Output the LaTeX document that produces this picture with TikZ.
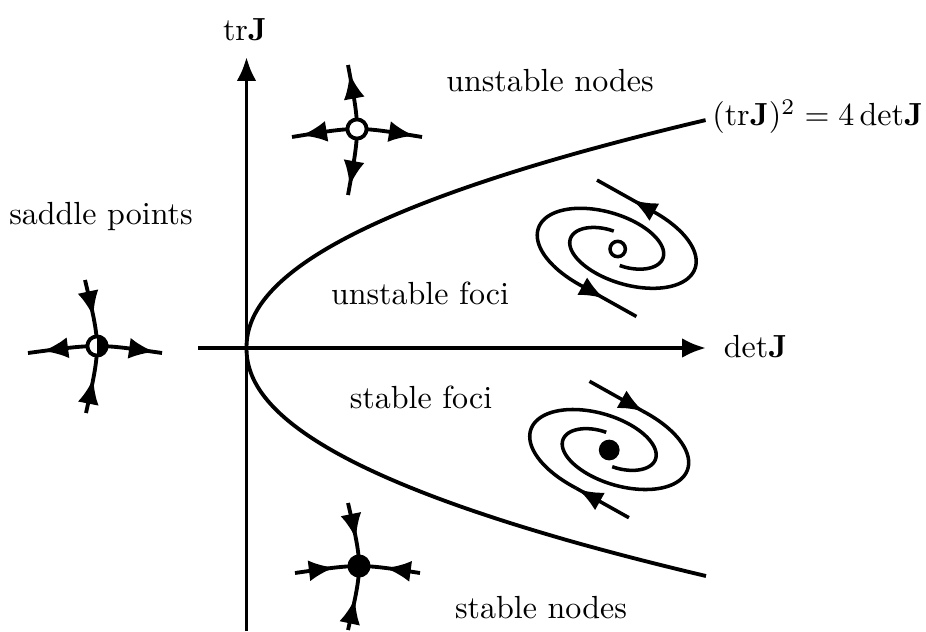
\documentclass[tikz,border=0pt]{standalone}
\usetikzlibrary{arrows.meta,calc}
\begin{document}
\begin{tikzpicture}[x=0.3125pt,y=-0.3125pt,line width=1.2pt,
  lbl/.style={inner sep=0pt,font=\normalsize},
  axisline/.style={-{Latex[length=7.5pt,width=6.2pt]}},
  dot/.style={circle,draw,line width=1.2pt,minimum size=6pt,inner sep=0pt},
  opendot/.style={dot,fill=white},
  fulldot/.style={dot,fill=black},
  halfdot/.style={dot,fill=white,path picture={\fill[black] (path picture bounding box.north) rectangle (path picture bounding box.south east);}},
  gtip/.style={-{Latex[length=8pt,width=6.6pt]},line width=1.2pt},
  stip/.style={-{Latex[length=7.8pt,width=6.3pt]},line width=1.1pt},
  arm/.style={line width=1.1pt}
]
\useasboundingbox (0,0) rectangle (926,631);

% axes
\coordinate (O) at (246.5,348);
\coordinate (ybot) at (246.5,631);
\coordinate (ytop) at (246.5,57);
\coordinate (xleft) at (198,348);
\coordinate (xright) at (706,348);
\draw[axisline] (ybot) -- (ytop);
\draw[axisline] (xleft) -- (xright);

% parabola (trJ)^2 = 4 detJ
\draw[line width=1.2pt] plot[domain=-2.28:2.28,samples=100,smooth]
  ({246.5+81.4*pow(abs(\x),2.1)},{348-100*\x});

% labels
\node[lbl] (ltr) at (245,30) {$\mathrm{tr}\mathbf{J}$};
\node[lbl,anchor=west] (ldet) at (722,346) {$\mathrm{det}\mathbf{J}$};
\node[lbl,anchor=base east] (lpar) at (925,126) {$(\mathrm{tr}\mathbf{J})^2 = 4\,\mathrm{det}\mathbf{J}$};
\node[lbl] (lun) at (550,81) {unstable nodes};
\node[lbl] (lsad) at (101,216) {saddle points};
\node[lbl] (luf) at (420,293) {unstable foci};
\node[lbl] (lsf) at (421,397) {stable foci};
\node[lbl] (lsn) at (541,608) {stable nodes};

% ---------- unstable node ----------
\coordinate (unt) at (348,65);  \coordinate (unb) at (348,195);
\coordinate (unl) at (292,137); \coordinate (unr) at (422,137);
\draw (unt) .. controls (360,128.7) .. (unb)
  coordinate[pos=0.045] (unA) coordinate[pos=0.12] (unAb)
  coordinate[pos=0.955] (unB) coordinate[pos=0.88] (unBb);
\draw (unl) .. controls (357,126.3) .. (unr)
  coordinate[pos=0.05] (unC) coordinate[pos=0.12] (unCb)
  coordinate[pos=0.96] (unD) coordinate[pos=0.89] (unDb);
\draw[gtip] (unAb) -- (unA);
\draw[gtip] (unBb) -- (unB);
\draw[gtip] (unCb) -- (unC);
\draw[gtip] (unDb) -- (unD);
\node[opendot] (un) at (357,129) {};

% ---------- saddle ----------
\coordinate (sat) at (85,280);  \coordinate (sab) at (86,413);
\coordinate (sal) at (28,353);  \coordinate (sar) at (162,353);
\draw (sat) .. controls (100.8,346) .. (sab)
  coordinate[pos=0.23] (saA) coordinate[pos=0.16] (saAb)
  coordinate[pos=0.79] (saB) coordinate[pos=0.86] (saBb);
\draw (sal) .. controls (97.7,343.7) .. (sar)
  coordinate[pos=0.075] (saC) coordinate[pos=0.145] (saCb)
  coordinate[pos=0.96] (saD) coordinate[pos=0.89] (saDb);
\draw[gtip] (saAb) -- (saA);
\draw[gtip] (saBb) -- (saB);
\draw[gtip] (saCb) -- (saC);
\draw[gtip] (saDb) -- (saD);
\node[halfdot] (sa) at (97,346) {};

% ---------- stable node ----------
\coordinate (snt) at (348,503);  \coordinate (snb) at (348,630);
\coordinate (snl) at (295,573);  \coordinate (snr) at (420,573);
\draw (snt) .. controls (362.7,566) .. (snb)
  coordinate[pos=0.24] (snA) coordinate[pos=0.17] (snAb)
  coordinate[pos=0.80] (snB) coordinate[pos=0.87] (snBb);
\draw (snl) .. controls (359.5,563.7) .. (snr)
  coordinate[pos=0.26] (snC) coordinate[pos=0.19] (snCb)
  coordinate[pos=0.76] (snD) coordinate[pos=0.83] (snDb);
\draw[gtip] (snAb) -- (snA);
\draw[gtip] (snBb) -- (snB);
\draw[gtip] (snCb) -- (snC);
\draw[gtip] (snDb) -- (snD);
\node[fulldot] (sn) at (359,566) {};

% ---------- unstable focus ----------
\begin{scope}[shift={(616.7,248.3)}]
  \coordinate (ufbe) at (19.7,68.2);
  \coordinate (ufae) at (-19.7,-68.2);
  \begin{scope}[scale=0.95]
  \coordinate (ufbs) at (-35.0,40.6);
  \coordinate (ufas) at (35.0,-40.6);
  \draw[arm] plot[domain=-75:258,samples=120,variable=\t]
    ({(0.40+0.00241*(\t+75))*(78.9*cos(\t)+12.98*sin(\t))},
     {(0.40+0.00241*(\t+75))*(25.65*cos(\t)-39.94*sin(\t))});
  \draw[arm] plot[domain=-75:258,samples=120,variable=\t]
    ({-(0.40+0.00241*(\t+75))*(78.9*cos(\t)+12.98*sin(\t))},
     {-(0.40+0.00241*(\t+75))*(25.65*cos(\t)-39.94*sin(\t))});
  \end{scope}
  \draw[arm] (ufbs) -- (ufbe);
  \draw[arm] (ufas) -- (ufae);
  \draw[stip] ($(ufbs)!0.28!(ufbe)$) -- ($(ufbs)!0.39!(ufbe)$);
  \draw[stip] ($(ufas)!0.22!(ufae)$) -- ($(ufas)!0.33!(ufae)$);
  \node[circle,draw,line width=1.1pt,fill=white,minimum size=4.8pt,inner sep=0pt] (uf) at (1,0.7) {};
\end{scope}

% ---------- stable focus ----------
\begin{scope}[shift={(609.2,449.5)}]
  \coordinate (sfbe) at (19.7,68.2);
  \coordinate (sfae) at (-19.7,-68.2);
  \begin{scope}[scale=0.95]
  \coordinate (sfbs) at (-35.0,40.6);
  \coordinate (sfas) at (35.0,-40.6);
  \draw[arm] plot[domain=-75:258,samples=120,variable=\t]
    ({(0.40+0.00241*(\t+75))*(78.9*cos(\t)+12.98*sin(\t))},
     {(0.40+0.00241*(\t+75))*(25.65*cos(\t)-39.94*sin(\t))});
  \draw[arm] plot[domain=-75:258,samples=120,variable=\t]
    ({-(0.40+0.00241*(\t+75))*(78.9*cos(\t)+12.98*sin(\t))},
     {-(0.40+0.00241*(\t+75))*(25.65*cos(\t)-39.94*sin(\t))});
  \end{scope}
  \draw[arm] (sfbs) -- (sfbe);
  \draw[arm] (sfas) -- (sfae);
  \draw[stip] ($(sfbs)!0.14!(sfbe)$) -- ($(sfbs)!0.04!(sfbe)$);
  \draw[stip] ($(sfas)!0.10!(sfae)$) -- ($(sfas)!-0.02!(sfae)$);
  \node[circle,fill=black,minimum size=6.5pt,inner sep=0pt] (sf) at (0,0.5) {};
\end{scope}
\end{tikzpicture}
\end{document}
